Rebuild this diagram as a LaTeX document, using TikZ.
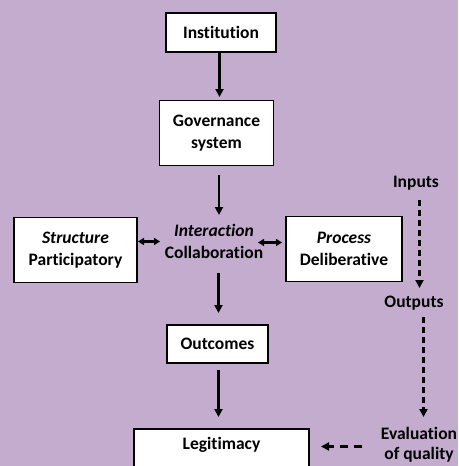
\documentclass[tikz,border=0pt]{standalone}
\usepackage{fontspec}
\setmainfont{Carlito}[Ligatures=NoCommon]
\usetikzlibrary{arrows.meta}
\definecolor{bgpurple}{RGB}{196,172,206}
\begin{document}
\begin{tikzpicture}[x=1pt,y=-1pt,
  box/.style={draw=black,fill=white,line width=1.6pt,inner sep=0pt,align=center,font=\bfseries\fontsize{17.5}{22}\selectfont},
  lbl/.style={inner sep=0pt,align=center,font=\bfseries\fontsize{17.5}{22}\selectfont},
  arr/.style={line width=2.2pt,-{Triangle[width=8pt,length=8pt]}},
  darr/.style={line width=2.2pt,{Triangle[width=7pt,length=6pt]}-{Triangle[width=7pt,length=6pt]}},
  dsh/.style={line width=2.2pt,dash pattern=on 6pt off 4pt,-{Triangle[width=8pt,length=8pt]}}]
\fill[bgpurple] (0,0) rectangle (458,466);
\useasboundingbox (0,0) rectangle (458,466);
\node[box,minimum width=110pt,minimum height=39pt] (inst) at (221,32.5) {Institution};
\node[box,minimum width=114pt,minimum height=65pt] (gov) at (216.5,133) {Governance\\system};
\node[lbl] (inter) at (214,241) {\textit{Interaction}\\Collaboration};
\node[box,minimum width=123pt,minimum height=65pt] (struc) at (75.5,250) {\textit{Structure}\\Participatory};
\node[box,minimum width=116pt,minimum height=65pt] (proc) at (344,249) {\textit{Process}\\Deliberative};
\node[box,minimum width=101pt,minimum height=38pt] (outc) at (217.5,344) {Outcomes};
\node[box,minimum width=175pt,minimum height=46pt,anchor=north] (legit) at (221.5,428) {};
\node[lbl] (legtxt) at (221.5,445) {Legitimacy};
\node[lbl] (inp) at (416,183) {Inputs};
\node[lbl] (outp) at (414,303) {Outputs};
\node[lbl] (evq) at (419,444.5) {Evaluation\\[-2pt]of quality};
\coordinate (a1) at (219.5,52);
\coordinate (a2) at (219.5,97);
\draw[arr] (a1) -- (a2);
\coordinate (b1) at (219,175);
\coordinate (b2) at (219,215);
\draw[arr] (b1) -- (b2);
\coordinate (c1) at (218.5,273);
\coordinate (c2) at (218.5,313);
\draw[arr] (c1) -- (c2);
\coordinate (d1) at (218.5,370);
\coordinate (d2) at (218.5,417);
\draw[arr] (d1) -- (d2);
\coordinate (e1) at (138,241.5);
\coordinate (e2) at (160,241.5);
\draw[darr] (e1) -- (e2);
\coordinate (f1) at (258,242.5);
\coordinate (f2) at (282,242.5);
\draw[darr] (f1) -- (f2);
\coordinate (g1) at (419.5,200);
\coordinate (g2) at (419.5,288);
\draw[dsh] (g1) -- (g2);
\coordinate (h1) at (423.5,317);
\coordinate (h2) at (423.5,417);
\draw[dsh] (h1) -- (h2);
\coordinate (k1) at (362,446.5);
\coordinate (k2) at (321,446.5);
\draw[line width=2.2pt,dash pattern=on 8pt off 6pt,-{Triangle[width=8pt,length=8pt]}] (k1) -- (k2);
\end{tikzpicture}
\end{document}
